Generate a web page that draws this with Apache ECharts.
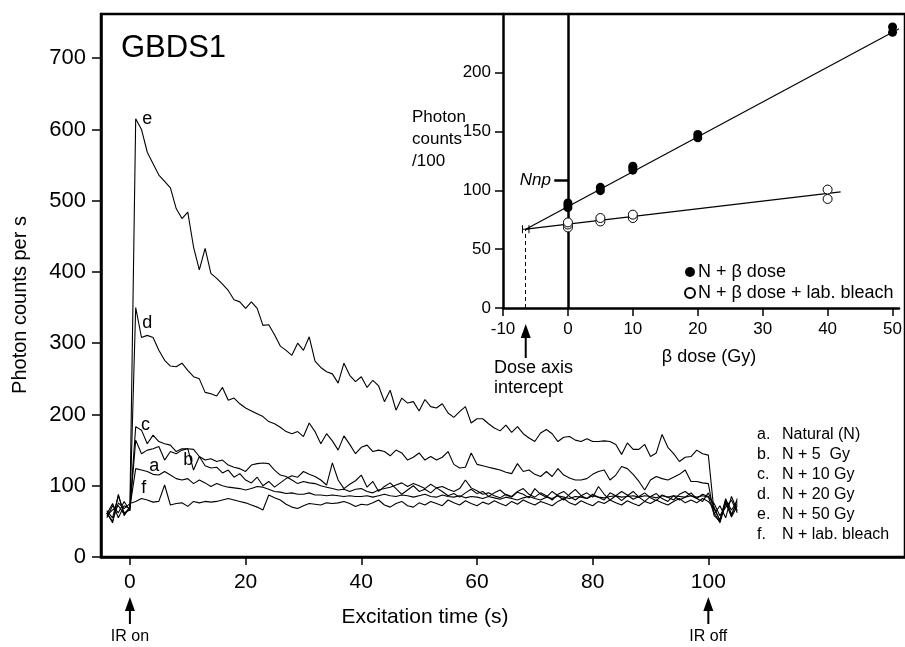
<!DOCTYPE html>
<html>
<head>
<meta charset="utf-8">
<script src="https://cdn.jsdelivr.net/npm/echarts@6/dist/echarts.min.js"></script>
<style>
  html, body { margin: 0; padding: 0; background: #fff; }
  #root { width: 905px; height: 647px; }
</style>
</head>
<body>
<div id="root"></div>
<script>
// excitation time (s), one reading per second
const timeSec = [-4, -3, -2, -1, 0, 1, 2, 3, 4, 5, 6, 7, 8, 9, 10,
  11, 12, 13, 14, 15, 16, 17, 18, 19, 20, 21, 22, 23, 24, 25, 26, 27, 28, 29, 30,
  31, 32, 33, 34, 35, 36, 37, 38, 39, 40, 41, 42, 43, 44, 45, 46, 47, 48, 49, 50,
  51, 52, 53, 54, 55, 56, 57, 58, 59, 60, 61, 62, 63, 64, 65, 66, 67, 68, 69, 70,
  71, 72, 73, 74, 75, 76, 77, 78, 79, 80, 81, 82, 83, 84, 85, 86, 87, 88, 89, 90,
  91, 92, 93, 94, 95, 96, 97, 98, 99, 100, 101, 102, 103, 104, 105]

// a. Natural (N)
const curveA = [58, 66, 72, 60, 70,
  124, 122, 120, 116, 115, 120, 115, 110, 108, 110,
  103, 108, 104, 99, 103, 100, 98, 97, 96, 94, 96, 99, 98, 95, 92, 91, 89, 90, 88, 88,
  90, 87, 87, 86, 87, 86, 85, 86, 85, 85, 86, 84, 86, 88, 86, 85, 87, 86, 84, 86,
  88, 85, 84, 87, 85, 84, 86, 83, 85, 84, 82, 85, 83, 81, 84, 82, 80, 83, 85, 82,
  80, 84, 82, 86, 84, 82, 85, 84, 82, 86, 84, 83, 85, 86, 84, 85, 86, 84, 86, 85,
  83, 86, 84, 86, 85, 84, 86, 84, 86, 84, 75, 58, 70, 80, 62]
// b. N + 5 Gy
const curveB = [65, 55, 86, 62, 66,
  164, 145, 150, 152, 155, 136, 148, 145, 150, 152,
  122, 141, 128, 125, 126, 118, 122, 112, 117, 108, 104, 112, 100, 106, 98, 104, 110, 114, 112, 120,
  116, 113, 108, 101, 132, 108, 96, 102, 107, 115, 98, 106, 92, 99, 104, 96, 88, 94, 100, 92,
  95, 90, 97, 92, 86, 89, 84, 90, 95, 89, 92, 85, 90, 94, 87, 84, 91, 88, 83, 96,
  88, 84, 92, 86, 80, 88, 95, 86, 82, 88, 84, 80, 90, 86, 79, 86, 92, 84, 78, 85,
  89, 82, 78, 86, 80, 84, 90, 82, 78, 90, 70, 50, 82, 60, 75]
// c. N + 10 Gy
const curveC = [60, 75, 55, 72, 68,
  183, 178, 159, 171, 162, 159, 157, 148, 152, 152,
  151, 141, 136, 138, 134, 136, 129, 126, 124, 120, 129, 131, 132, 131, 122, 115, 113, 108, 103, 106,
  104, 103, 100, 98, 96, 94, 95, 92, 95, 96, 92, 90, 94, 96, 98, 101, 104, 99, 103, 100,
  96, 102, 97, 99, 95, 92, 96, 108, 97, 93, 88, 90, 86, 83, 88, 85, 92, 96, 88, 84,
  90, 86, 80, 88, 92, 85, 80, 86, 90, 84, 99, 88, 80, 86, 92, 87, 81, 85, 90, 83,
  79, 87, 84, 80, 88, 92, 86, 82, 88, 85, 60, 72, 55, 85, 65]
// d. N + 20 Gy
const curveD = [55, 72, 62, 78, 65,
  350, 308, 311, 308, 290, 276, 268, 267, 272, 262,
  253, 250, 231, 229, 226, 238, 220, 223, 215, 209, 205, 201, 197, 190, 187, 182, 176, 173, 176, 169,
  188, 176, 159, 173, 163, 150, 170, 158, 145, 154, 157, 148, 150, 148, 142, 150, 146, 136, 140, 146,
  136, 141, 136, 140, 148, 130, 125, 126, 146, 130, 128, 126, 124, 122, 119, 117, 131, 120, 122, 116,
  113, 120, 113, 124, 115, 111, 108, 108, 110, 116, 120, 122, 108, 115, 127, 124, 116, 106, 94, 108,
  113, 110, 108, 112, 116, 122, 106, 106, 104, 103, 58, 50, 78, 56, 72]
// e. N + 50 Gy
const curveE = [62, 48, 88, 58, 70,
  615, 600, 568, 552, 536, 527, 518, 489, 475, 484,
  435, 403, 433, 398, 391, 383, 374, 361, 358, 349, 358, 349, 325, 326, 312, 296, 290, 283, 300, 290,
  309, 275, 266, 260, 257, 244, 272, 255, 246, 253, 238, 248, 240, 218, 234, 206, 223, 216, 218, 205,
  221, 211, 209, 215, 202, 196, 204, 211, 188, 194, 194, 187, 181, 177, 185, 175, 183, 173, 167, 162,
  174, 179, 173, 162, 168, 169, 164, 162, 166, 162, 162, 163, 162, 158, 144, 160, 151, 151, 158, 141,
  146, 172, 154, 145, 134, 140, 141, 150, 145, 143, 62, 48, 75, 58, 82]
// f. N + lab. bleach
const curveF = [62, 50, 76, 68, 75,
  78, 82, 80, 77, 78, 101, 73, 75, 76, 71,
  78, 76, 78, 77, 78, 80, 82, 80, 78, 76, 73, 70, 66, 87, 83, 80, 74, 70, 68, 72,
  75, 74, 73, 76, 75, 76, 78, 75, 71, 74, 73, 76, 80, 73, 70, 75, 78, 72, 70, 76,
  73, 78, 75, 72, 80, 76, 73, 79, 75, 72, 77, 74, 79, 75, 72, 78, 74, 80, 76, 73,
  78, 75, 72, 78, 82, 76, 73, 79, 75, 72, 78, 75, 80, 76, 73, 79, 75, 72, 78, 75,
  80, 76, 73, 78, 82, 76, 80, 76, 82, 78, 68, 52, 80, 66, 78]

const curveLetters = ['a', 'b', 'c', 'd', 'e', 'f']
// [letter, time, counts] where each curve letter sits
const curveLabelPos = [['e', 3, 614], ['d', 3, 328], ['c', 2.7, 185], ['b', 10.1, 136], ['a', 4.2, 128], ['f', 2.4, 97]]
const legendKeys = ['a.', 'b.', 'c.', 'd.', 'e.', 'f.']
const legendTexts = ['Natural (N)', 'N + 5  Gy', 'N + 10 Gy', 'N + 20 Gy', 'N + 50 Gy', 'N + lab. bleach']

const mainXTicks = [0, 20, 40, 60, 80, 100]
const mainYTicks = [0, 100, 200, 300, 400, 500, 600, 700]

// inset: photon counts /100 vs beta dose (Gy)
const doseFilled = [[0, 85.3], [0, 87.5], [0, 89.3], [5, 99.8], [5, 102.6], [10, 117.2], [10, 119], [10, 120.6],
  [20, 144.8], [20, 147.6], [50, 234.4], [50, 239]]
const doseHollow = [[0, 68.5], [0, 71], [0, 72.8], [5, 73.6], [5, 76.5], [10, 76.5], [10, 79.4], [40, 92.7], [40, 100.7]]
const fitFilled = [[-6.5, 67], [51, 237.5]]
const fitHollow = [[-6.5, 67], [42, 98.7]]
const interceptDose = -6.5
const interceptCounts = 67
const nnpCounts = 109
const insetXTicks = [-10, 0, 10, 20, 30, 40, 50]
const insetYTicks = [0, 50, 100, 150, 200]

const FONT = 'Liberation Sans, Arial, Helvetica, sans-serif'
const chart = echarts.init(document.getElementById('root'))

const curves = [curveA, curveB, curveC, curveD, curveE, curveF]
const curveSeries = curves.map((vals, k) => ({
  name: curveLetters[k],
  type: 'line',
  xAxisIndex: 0,
  yAxisIndex: 0,
  data: timeSec.map((t, i) => [t, vals[i]]),
  symbol: 'none',
  lineStyle: { color: '#000', width: 1.1 },
  silent: true
}))

const option = {
  animation: false,
  backgroundColor: '#fff',
  textStyle: { fontFamily: FONT, color: '#000' },
  grid: [
    { left: 101, top: 14, width: 811, height: 543, show: true, borderColor: '#000', borderWidth: 2.5 },
    { left: 503, top: 14, width: 402.6, height: 294 }
  ],
  xAxis: [
    {
      type: 'value', gridIndex: 0, min: -5, max: 134,
      axisLine: { onZero: false, lineStyle: { color: '#000', width: 2.5 } },
      axisTick: { length: 8, customValues: mainXTicks, lineStyle: { color: '#000', width: 1.5 } },
      axisLabel: { customValues: mainXTicks, fontSize: 21, color: '#000', margin: 15, fontFamily: FONT },
      splitLine: { show: false }
    },
    {
      type: 'value', gridIndex: 1, min: -10, max: 51,
      axisLine: { onZero: false, lineStyle: { color: '#000', width: 2.5 } },
      axisTick: { length: 8, customValues: insetXTicks, lineStyle: { color: '#000', width: 1.5 } },
      axisLabel: { customValues: insetXTicks, fontSize: 17, color: '#000', margin: 13, fontFamily: FONT },
      splitLine: { show: false }
    }
  ],
  yAxis: [
    {
      type: 'value', gridIndex: 0, min: 0, max: 762,
      axisLine: { show: true, onZero: false, lineStyle: { color: '#000', width: 2.5 } },
      axisTick: { show: true, length: 9, customValues: mainYTicks, lineStyle: { color: '#000', width: 1.5 } },
      axisLabel: { customValues: mainYTicks, fontSize: 22, color: '#000', margin: 15, fontFamily: FONT },
      splitLine: { show: false }
    },
    {
      type: 'value', gridIndex: 1, min: 0, max: 250,
      axisLine: { show: true, onZero: false, lineStyle: { color: '#000', width: 2.5 } },
      axisTick: { show: true, length: 8, customValues: insetYTicks, lineStyle: { color: '#000', width: 1.5 } },
      axisLabel: { customValues: insetYTicks, fontSize: 17, color: '#000', margin: 12, fontFamily: FONT },
      splitLine: { show: false }
    }
  ],
  legend: {
    orient: 'vertical', left: 679, top: 258, itemWidth: 10, itemHeight: 10, itemGap: 3,
    textStyle: { fontSize: 18, color: '#000', fontFamily: FONT, padding: [0, 0, 0, -2] },
    selectedMode: false,
    data: [
      { name: 'N + β dose', icon: 'circle' },
      { name: 'N + β dose + lab. bleach', icon: 'circle' }
    ]
  },
  series: [
    ...curveSeries,
    {
      name: 'curve letters',
      type: 'scatter', xAxisIndex: 0, yAxisIndex: 0, silent: true,
      symbolSize: 1, itemStyle: { color: 'rgba(0,0,0,0)', opacity: 1 },
      data: curveLabelPos.map(p => ({ value: [p[1], p[2]], name: p[0] })),
      label: { show: true, position: 'inside', formatter: p => p.name, color: '#000', fontSize: 18, fontFamily: FONT }
    },
    {
      name: 'fit filled', type: 'line', xAxisIndex: 1, yAxisIndex: 1, data: fitFilled,
      symbol: 'none', lineStyle: { color: '#000', width: 1.2 }, silent: true
    },
    {
      name: 'fit hollow', type: 'line', xAxisIndex: 1, yAxisIndex: 1, data: fitHollow,
      symbol: 'none', lineStyle: { color: '#000', width: 1.2 }, silent: true,
      markLine: {
        silent: true, symbol: 'none', label: { show: false },
        data: [
          [{ coord: [0, 0], lineStyle: { type: 'solid', width: 2.5, color: '#000' } }, { coord: [0, 250] }],
          [{ coord: [interceptDose, 0], lineStyle: { type: [4, 3], width: 1, color: '#000' } }, { coord: [interceptDose, interceptCounts] }],
          [{ coord: [-2.1, nnpCounts], lineStyle: { type: 'solid', width: 2.5, color: '#000' } }, { coord: [0, nnpCounts] }]
        ]
      }
    },
    {
      name: 'intercept error',
      type: 'custom', xAxisIndex: 1, yAxisIndex: 1, silent: true,
      data: [[interceptDose, interceptCounts]],
      renderItem: (params, api) => {
        const l = api.coord([api.value(0) - 0.5, api.value(1)])
        const r = api.coord([api.value(0) + 0.5, api.value(1)])
        const st = { stroke: '#000', lineWidth: 1 }
        return {
          type: 'group',
          children: [
            { type: 'line', shape: { x1: l[0], y1: l[1], x2: r[0], y2: r[1] }, style: st },
            { type: 'line', shape: { x1: l[0], y1: l[1] - 4, x2: l[0], y2: l[1] + 4 }, style: st },
            { type: 'line', shape: { x1: r[0], y1: r[1] - 4, x2: r[0], y2: r[1] + 4 }, style: st }
          ]
        }
      }
    },
    {
      name: 'N + β dose', type: 'scatter', xAxisIndex: 1, yAxisIndex: 1, data: doseFilled,
      symbol: 'circle', symbolSize: 9, itemStyle: { color: '#000', opacity: 1 }, silent: true, z: 5
    },
    {
      name: 'N + β dose + lab. bleach', type: 'scatter', xAxisIndex: 1, yAxisIndex: 1, data: doseHollow,
      symbol: 'circle', symbolSize: 9, itemStyle: { color: '#fff', borderColor: '#000', borderWidth: 1, opacity: 1 }, silent: true, z: 5
    }
  ]
}
chart.setOption(option)

// annotations that hang off the axes
function upArrow (x, yTip, yTail, head) {
  return [
    { type: 'line', shape: { x1: x, y1: yTip + head, x2: x, y2: yTail }, style: { stroke: '#000', lineWidth: 2 } },
    { type: 'polygon', shape: { points: [[x, yTip], [x - 5, yTip + head], [x + 5, yTip + head]] }, style: { fill: '#000' } }
  ]
}
function txt (x, y, text, size, extra) {
  return {
    type: 'text', x, y,
    style: Object.assign({ text, fontSize: size, fontFamily: FONT, fill: '#000', align: 'left', verticalAlign: 'middle' }, extra || {})
  }
}

const irOn = chart.convertToPixel({ gridIndex: 0 }, [0, 0])
const irOff = chart.convertToPixel({ gridIndex: 0 }, [100, 0])
const icpt = chart.convertToPixel({ gridIndex: 1 }, [interceptDose, 0])
const elements = [
  txt(121, 48, 'GBDS1', 31),
  { type: 'text', x: 20, y: 305, rotation: Math.PI / 2,
    style: { text: 'Photon counts per s', fontSize: 20, fontFamily: FONT, fill: '#000', align: 'center', verticalAlign: 'middle' } },
  txt(425, 617, 'Excitation time (s)', 21, { align: 'center' }),
  ...upArrow(irOn[0], 597, 624, 14),
  txt(irOn[0], 637, 'IR on', 16, { align: 'center' }),
  ...upArrow(irOff[0], 597, 624, 14),
  txt(irOff[0], 637, 'IR off', 16, { align: 'center' }),
  txt(412, 117, 'Photon', 17),
  txt(412, 139, 'counts', 17),
  txt(412, 161, '/100', 17),
  txt(551, 180, 'Nnp', 17, { align: 'right', fontStyle: 'italic' }),
  txt(709, 357, 'β dose (Gy)', 18, { align: 'center' }),
  ...upArrow(icpt[0], 324, 358, 14),
  txt(494, 368, 'Dose axis', 18),
  txt(494, 388, 'intercept', 18)
]
legendKeys.forEach((k, i) => {
  elements.push(txt(757, 435 + 20 * i, k, 16))
  elements.push(txt(782, 435 + 20 * i, legendTexts[i], 16))
})
chart.setOption({ graphic: { elements } })
</script>
</body>
</html>
